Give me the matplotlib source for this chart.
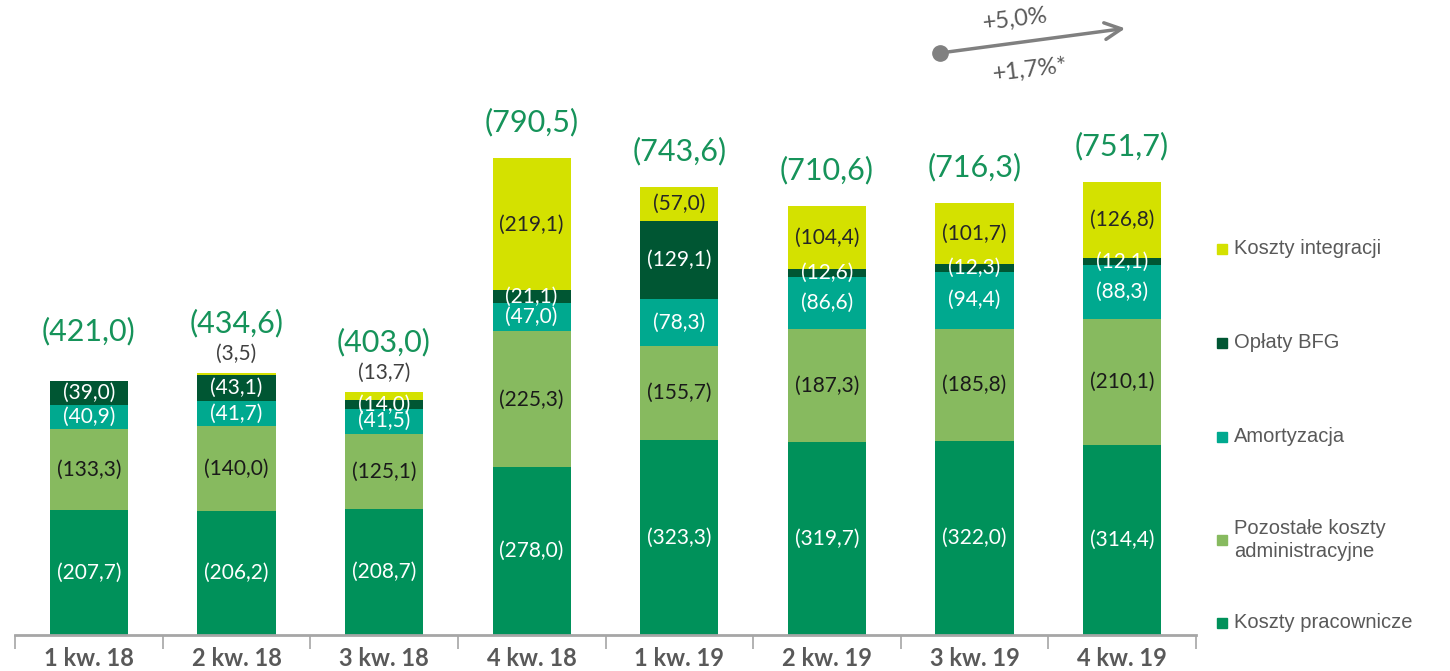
import numpy as np
import matplotlib
matplotlib.use('Agg')
import matplotlib.pyplot as plt
from matplotlib.patches import Rectangle

plt.rcParams['font.family'] = ['Lato', 'DejaVu Sans']

# Dane (mln zł)
kwartaly = ['1 kw. 18', '2 kw. 18', '3 kw. 18', '4 kw. 18', '1 kw. 19', '2 kw. 19', '3 kw. 19', '4 kw. 19']
pracownicze = [207.7, 206.2, 208.7, 278.0, 323.3, 319.7, 322.0, 314.4]
pozostale = [133.3, 140.0, 125.1, 225.3, 155.7, 187.3, 185.8, 210.1]
amortyzacja = [40.9, 41.7, 41.5, 47.0, 78.3, 86.6, 94.4, 88.3]
bfg = [39.0, 43.1, 14.0, 21.1, 129.1, 12.6, 12.3, 12.1]
integracja = [0.0, 3.5, 13.7, 219.1, 57.0, 104.4, 101.7, 126.8]
sumy = [421.0, 434.6, 403.0, 790.5, 743.6, 710.6, 716.3, 751.7]
zmiany = ['+5,0%', '+1,7%*']

serie = [
    ('Koszty pracownicze', pracownicze, '#00915A', 'white'),
    ('Pozostałe koszty\nadministracyjne', pozostale, '#87BA5F', '#1a1a1a'),
    ('Amortyzacja', amortyzacja, '#00A98F', 'white'),
    ('Opłaty BFG', bfg, '#005633', 'white'),
    ('Koszty integracji', integracja, '#D4E100', '#262626'),
]

def fmt(v):
    return '(' + f'{v:.1f}'.replace('.', ',') + ')'

fig = plt.figure(figsize=(14.5, 6.71), dpi=100)
ax = fig.add_axes([15/1450, 36/671, 1181/1450, 635/671])
x = np.arange(len(kwartaly))
szer = 0.53
dol = np.zeros(len(kwartaly))

for nazwa, vals, kolor, kol_txt in serie:
    vals = np.array(vals)
    ax.bar(x, vals, szer, bottom=dol, color=kolor, edgecolor='none')
    for i, v in enumerate(vals):
        if v <= 0:
            continue
        if nazwa == 'Koszty integracji' and v < 20:
            # mała wartość - etykieta nad słupkiem
            ax.annotate(fmt(v), (x[i], dol[i] + v), xytext=(0, 19), textcoords='offset pixels',
                        ha='center', va='center', fontsize=15, color='#404040')
        else:
            ax.text(x[i], dol[i] + v / 2, fmt(v), ha='center', va='center',
                    fontsize=15, color=kol_txt)
    dol += vals

# sumy nad słupkami
for i, s in enumerate(sumy):
    off = 50 if integracja[i] < 20 else 36
    ax.annotate(fmt(s), (x[i], dol[i]), xytext=(0, off), textcoords='offset pixels',
                ha='center', va='center', fontsize=22, color='#16935A')

ax.set_xlim(-0.5, 7.5)
ax.set_ylim(0, 1053)
for sp in ['top', 'right', 'left']:
    ax.spines[sp].set_visible(False)
ax.spines['bottom'].set_color('#A6A6A6')
ax.spines['bottom'].set_linewidth(2)
ax.set_yticks([])
ax.set_xticks(np.arange(-0.5, 8, 1), minor=False)
ax.set_xticklabels([])
ax.tick_params(axis='x', length=10, width=1.2, color='#A6A6A6')
ax.set_xticks(x, minor=True)
ax.set_xticklabels(kwartaly, minor=True, fontsize=17, fontweight='bold', color='#595959')
ax.tick_params(axis='x', which='minor', length=0, pad=9)

# strzałka zmiany
ax_a = fig.add_axes([0, 0, 1, 1], facecolor='none')
ax_a.set_xlim(0, 1450)
ax_a.set_ylim(671, 0)
ax_a.axis('off')
ax_a.annotate('', xy=(1128, 28), xytext=(940, 53),
              arrowprops=dict(arrowstyle='->', color='#808080', lw=2.5, mutation_scale=30))
ax_a.plot([940], [53], 'o', color='#808080', markersize=11)
ax_a.text(1015, 19, zmiany[0], ha='center', va='center', fontsize=17, color='#595959', rotation=7)
ax_a.text(1030, 70, zmiany[1], ha='center', va='center', fontsize=17, color='#595959', rotation=7)

# legenda
leg_y = [249, 343, 437, 540, 623]
for (nazwa, vals, kolor, kol_txt), yy in zip(serie[::-1], leg_y):
    ax_a.add_patch(Rectangle((1217, yy - 5), 10, 10, color=kolor))
    ax_a.text(1234, yy, nazwa, ha='left', va='center', fontsize=14.5, color='#595959',
              linespacing=1.25, family='Liberation Sans')

fig.savefig('out.png', dpi=100)
